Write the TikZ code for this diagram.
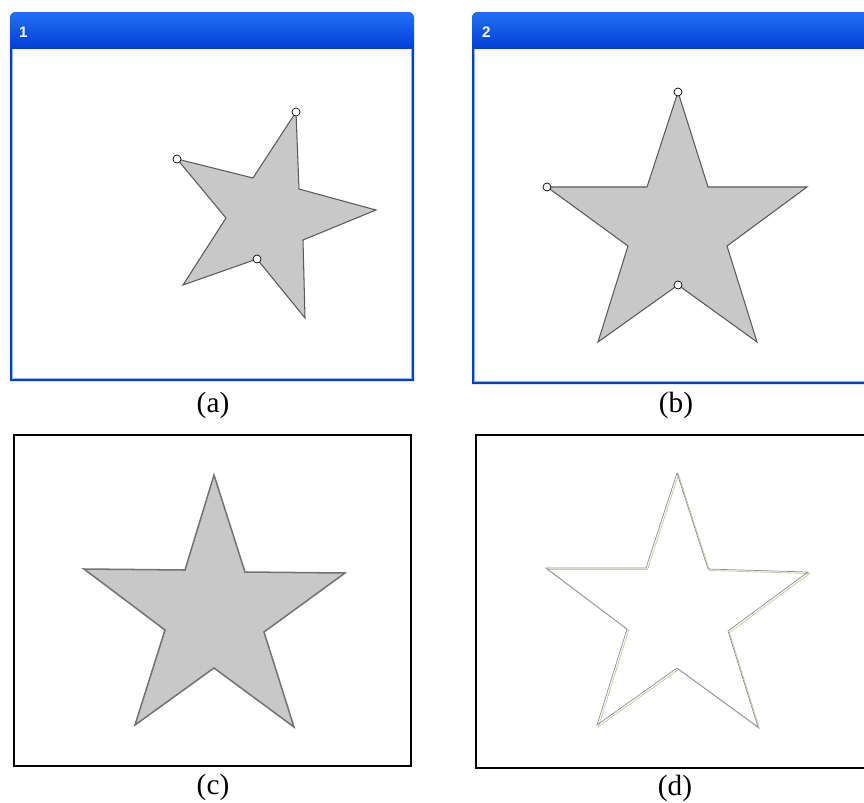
\documentclass[tikz,border=0pt]{standalone}
\usepackage{fontspec}
\setmainfont{Liberation Serif}
\newfontfamily\titlefont{Liberation Sans}
\usetikzlibrary{positioning}
\definecolor{XPBlue}{RGB}{0, 84, 228}
\definecolor{XPBlueDark}{RGB}{0, 62, 212}
\definecolor{XPBlueLight}{RGB}{35, 112, 245}
\definecolor{StarGray}{RGB}{200, 200, 200}
\definecolor{StarLine}{RGB}{90, 90, 90}
\definecolor{EdgeBlue}{RGB}{140, 140, 165}
\definecolor{EdgeOlive}{RGB}{205, 205, 165}

\begin{document}
\begin{tikzpicture}[
    x=0.03cm, y=-0.03cm,
    winborder/.style={fill=XPBlueDark},
    titlebar/.style={top color=XPBlueLight, middle color=XPBlue, bottom color=XPBlueDark},
    titletext/.style={text=white, font=\titlefont\bfseries\fontsize{13}{13}\selectfont, anchor=west, inner sep=0},
    frame/.style={draw=black, line width=2.3pt},
    star/.style={fill=StarGray, draw=StarLine, line width=0.9pt, line join=miter},
    handle/.style={circle, draw=black, fill=white, line width=0.6pt, inner sep=0, minimum size=0.24cm},
    caption/.style={font=\fontsize{25}{27}\selectfont, inner sep=0}
]
\useasboundingbox (0,0) rectangle (864,802);
\clip (0,0) rectangle (864,802);

% Window 1
\fill[winborder] (10,381) [rounded corners=5pt] -- (10,12) -- (414,12) [sharp corners] -- (414,381) -- cycle;
\shade[titlebar] (10,49) [rounded corners=5pt] -- (10,12) -- (414,12) [sharp corners] -- (414,49) -- cycle;
\fill[XPBlueLight!50] (12,49) rectangle (412,379);
\fill[white] (13,49) rectangle (411,378);
\node[titletext] (title1) at (19,32) {1};

% Window 2
\fill[winborder] (472,384) [rounded corners=5pt] -- (472,12) -- (880,12) [sharp corners] -- (880,384) -- cycle;
\shade[titlebar] (472,49) [rounded corners=5pt] -- (472,12) -- (880,12) [sharp corners] -- (880,49) -- cycle;
\fill[XPBlueLight!50] (474,49) rectangle (880,382);
\fill[white] (475,49) rectangle (880,381);
\node[titletext] (title2) at (482,32) {2};

% Frames
\draw[frame] (14,435) rectangle (411,766);
\draw[frame] (476,435) rectangle (880,768);

% Star (a)
\filldraw[star] (296,112) -- (299,189) -- (376,210) -- (303,240) -- (305,318)
    -- (257,259) -- (183,285) -- (226,218) -- (177,159) -- (253,178) -- cycle;
\node[handle] (atop) at (296,112) {};
\node[handle] (aleft) at (177,159) {};
\node[handle] (abot) at (257,259) {};

% Star (b)
\filldraw[star] (678,92) -- (708,187) -- (807,187) -- (727,246) -- (757,342)
    -- (678,285) -- (598,342) -- (628,246) -- (547,187) -- (647,187) -- cycle;
\node[handle] (btop) at (678,92) {};
\node[handle] (bleft) at (547,187) {};
\node[handle] (bbot) at (678,285) {};

% Star (c)
\filldraw[star, draw=StarLine!85, line width=1.3pt] (214,475) -- (245,572) -- (345,573) -- (264,632) -- (294,727)
    -- (214,668) -- (135,725) -- (165,630) -- (84,569) -- (185,570) -- cycle;

% Star (d)
\draw[EdgeOlive, line width=0.7pt, shift={(1.5,1.5)}] (677,473) -- (708,569) -- (808,572) -- (728,631) -- (758,727)
    -- (677,668) -- (597,725) -- (627,629) -- (546,568) -- (646,568) -- cycle;
\draw[EdgeBlue, line width=0.6pt] (677,473) -- (708,569) -- (808,572) -- (728,631) -- (758,727)
    -- (677,668) -- (597,725) -- (627,629) -- (546,568) -- (646,568) -- cycle;

% Captions
\node[caption] (capa) at (213,405) {(a)};
\node[caption] (capb) at (676,405) {(b)};
\node[caption] (capc) at (213,787) {(c)};
\node[caption] (capd) at (675,788) {(d)};

\end{tikzpicture}
\end{document}
